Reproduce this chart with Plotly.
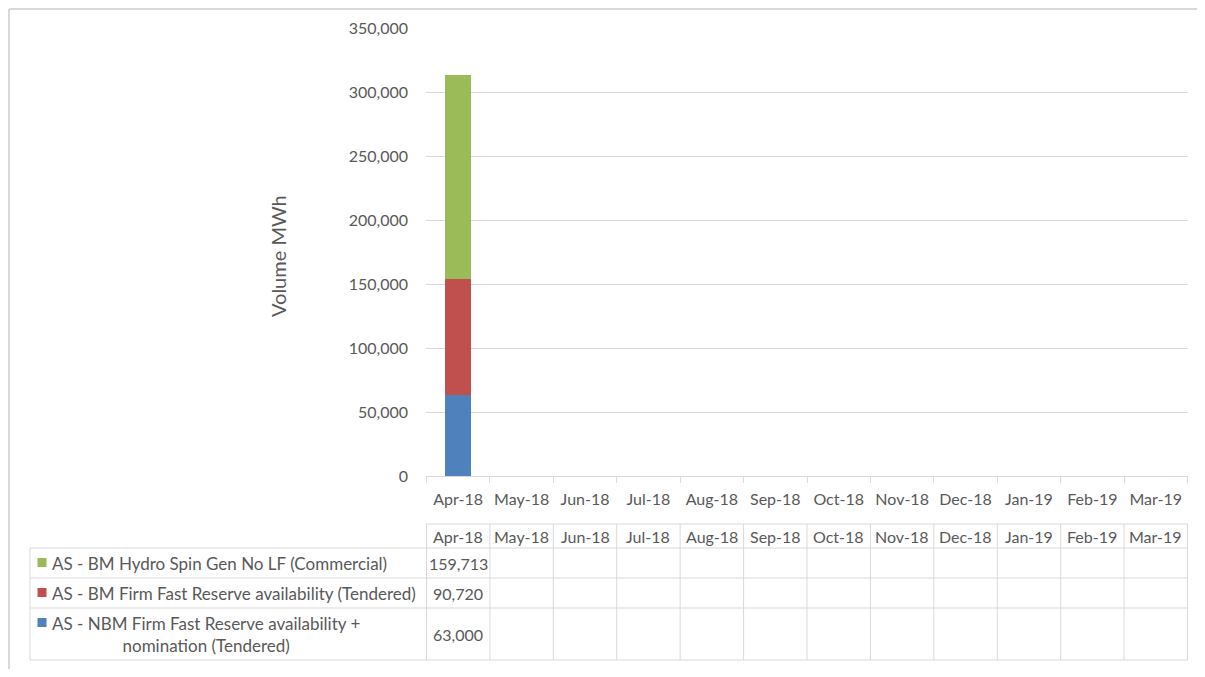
import plotly.graph_objects as go

months = ["Apr-18", "May-18", "Jun-18", "Jul-18", "Aug-18", "Sep-18",
          "Oct-18", "Nov-18", "Dec-18", "Jan-19", "Feb-19", "Mar-19"]
series_names = [
    "AS - NBM Firm Fast Reserve availability + nomination (Tendered)",
    "AS - BM Firm Fast Reserve availability (Tendered)",
    "AS - BM Hydro Spin Gen No LF (Commercial)",
]
nbm_firm = [63000] + [None] * 11
bm_firm = [90720] + [None] * 11
bm_hydro = [159713] + [None] * 11
colors = ["#4f81bd", "#c0504d", "#9bbb59"]

OFF = 8  # page body margin
W, H = 1205 - 2 * OFF, 677 - 2 * OFF
L, R, T, B = 426 - OFF, 1188 - OFF, 28 - OFF, 476 - OFF  # plot area (figure px)
FONT = "Lato, 'Open Sans', sans-serif"
TXT = "#595959"
GRID = "#d9d9d9"


def px(xp):  # page pixel -> paper x
    return (xp - OFF - L) / (R - L)


def py(yp):  # page pixel -> paper y
    return (B - (yp - OFF)) / (B - T)


fig = go.Figure()
for name, vals, col in zip(series_names, [nbm_firm, bm_firm, bm_hydro], colors):
    fig.add_trace(go.Bar(x=months, y=vals, name=name, marker_color=col,
                         marker_line_width=0, showlegend=False))

fig.update_layout(
    width=W, height=H, autosize=False,
    margin=dict(l=L, r=W - R, t=T, b=H - B, pad=0, autoexpand=False),
    barmode="stack", bargap=0.59,
    paper_bgcolor="white", plot_bgcolor="white",
    font=dict(family=FONT, size=16, color=TXT),
    xaxis=dict(type="category", showgrid=False, showline=True, linecolor=GRID,
               linewidth=1, ticks="outside", tickson="boundaries", ticklen=6,
               tickangle=0, automargin=False, ticklabelstandoff=9,
               tickcolor=GRID, tickfont=dict(size=16, color=TXT)),
    yaxis=dict(range=[0, 350000], dtick=50000, tickformat=",", showgrid=True,
               gridcolor=GRID, gridwidth=1, zeroline=False, showline=False,
               automargin=False,
               ticks="", ticklabelstandoff=17, tickfont=dict(size=16, color=TXT)),
)

shapes = []
line = dict(color=GRID, width=1)
# outer chart border (left and top edges only; the rest lies off-page)
border = dict(color=GRID, width=2)
shapes.append(dict(type="line", xref="paper", yref="paper", x0=px(9), x1=px(1260),
                   y0=py(9), y1=py(9), line=border, layer="below"))
shapes.append(dict(type="line", xref="paper", yref="paper", x0=px(9), x1=px(9),
                   y0=py(9), y1=py(720), line=border, layer="below"))
# data table rows
row_y = [524, 548, 578, 608, 660]
shapes.append(dict(type="line", xref="paper", yref="paper", x0=0, x1=1,
                   y0=py(row_y[0]), y1=py(row_y[0]), line=line))
for yv in row_y[1:]:
    shapes.append(dict(type="line", xref="paper", yref="paper", x0=px(30), x1=1,
                       y0=py(yv), y1=py(yv), line=line))
shapes.append(dict(type="line", xref="paper", yref="paper", x0=px(30), x1=px(30),
                   y0=py(row_y[1]), y1=py(row_y[-1]), line=line))
for i in range(len(months) + 1):
    shapes.append(dict(type="line", xref="x", yref="paper", x0=i - 0.5, x1=i - 0.5,
                       y0=py(row_y[0]), y1=py(row_y[-1]), line=line))

ann = []
# y-axis title
ann.append(dict(text="Volume MWh", xref="paper", yref="paper", x=px(278), y=py(256),
                xanchor="center", yanchor="middle",
                textangle=-90, showarrow=False, font=dict(size=20, color=TXT)))
# header row
for m in months:
    ann.append(dict(text=m, xref="x", yref="paper", x=m, y=py(536), showarrow=False,
                    xanchor="center", yanchor="middle", font=dict(size=16, color=TXT)))
# series rows (top: hydro, red, blue)
rows = [
    (bm_hydro, colors[2], "AS - BM Hydro Spin Gen No LF (Commercial)", 563, 562.5),
    (bm_firm, colors[1], "AS - BM Firm Fast Reserve availability (Tendered)", 593, 592.5),
    (nbm_firm, colors[0], "AS - NBM Firm Fast Reserve availability +<br>nomination (Tendered)", 634, 622.5),
]
for vals, col, label, yc, ysq in rows:
    shapes.append(dict(type="rect", xref="paper", yref="paper", x0=px(37.5), x1=px(46.5),
                       y0=py(ysq + 4.5), y1=py(ysq - 4.5), fillcolor=col, line_width=0))
    ann.append(dict(text=label, xref="paper", yref="paper", x=px(50), y=py(yc),
                    xanchor="left", yanchor="middle", align="center", showarrow=False,
                    font=dict(size=17, color=TXT)))
    for m, v in zip(months, vals):
        if v is not None:
            ann.append(dict(text=f"{v:,}", xref="x", yref="paper", x=m, y=py(yc),
                            xanchor="center", yanchor="middle",
                            showarrow=False, font=dict(size=16, color=TXT)))
fig.update_layout(shapes=shapes, annotations=ann)

fig.write_html("out.html")
